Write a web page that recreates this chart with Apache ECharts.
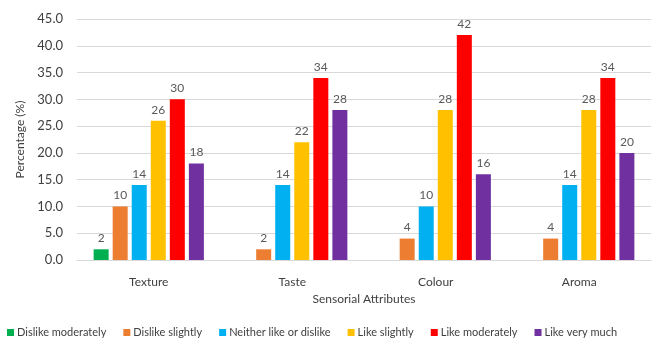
<!DOCTYPE html>
<html>
<head>
<meta charset="utf-8">
<script src="https://cdn.jsdelivr.net/npm/echarts@6/dist/echarts.min.js"></script>
<style>
  html, body { margin: 0; padding: 0; background: #fff; }
  #chart { width: 656px; height: 345px; }
</style>
</head>
<body>
<div id="chart"></div>
<script>
const categories = ['Texture', 'Taste', 'Colour', 'Aroma']
const seriesNames = ['Dislike moderately', 'Dislike slightly', 'Neither like or dislike', 'Like slightly', 'Like moderately', 'Like very much']
const dislikeModerately = [2, 0, 0, 0]
const dislikeSlightly = [10, 2, 4, 4]
const neither = [14, 14, 10, 14]
const likeSlightly = [26, 22, 28, 28]
const likeModerately = [30, 34, 42, 34]
const likeVeryMuch = [18, 28, 16, 20]
const colors = ['#00B050', '#ED7D31', '#00B0F0', '#FFC000', '#FF0000', '#7030A0']

const values = [dislikeModerately, dislikeSlightly, neither, likeSlightly, likeModerately, likeVeryMuch]
const font = 'Lato, "Open Sans", sans-serif'

const chart = echarts.init(document.getElementById('chart'))

chart.setOption({
  animation: false,
  color: colors,
  textStyle: { fontFamily: font },
  grid: { left: 77, right: 5, top: 19, bottom: 85 },
  legend: {
    left: 2,
    bottom: 2,
    width: 656,
    itemWidth: 7,
    itemHeight: 7,
    itemGap: 17,
    icon: 'rect',
    textStyle: { color: '#404040', fontSize: 11, fontFamily: font, padding: [0, 0, 0, -2] },
    data: seriesNames
  },
  xAxis: {
    type: 'category',
    data: categories,
    name: 'Sensorial Attributes',
    nameLocation: 'middle',
    nameGap: 32,
    nameTextStyle: { color: '#404040', fontSize: 12, fontFamily: font },
    axisLine: { lineStyle: { color: '#d9d9d9' } },
    axisTick: { show: false },
    axisLabel: { color: '#404040', fontSize: 12, margin: 16 }
  },
  yAxis: {
    type: 'value',
    min: 0,
    max: 45,
    interval: 5,
    name: 'Percentage (%)',
    nameLocation: 'middle',
    nameGap: 48,
    nameTextStyle: { color: '#404040', fontSize: 12, fontFamily: font },
    axisLabel: { color: '#404040', fontSize: 13, margin: 14, formatter: v => v.toFixed(1) },
    splitLine: { lineStyle: { color: '#d9d9d9' } }
  },
  series: seriesNames.map((name, i) => ({
    name,
    type: 'bar',
    barWidth: 15,
    barGap: '27%',
    data: values[i],
    label: {
      show: true,
      position: 'top',
      distance: 5,
      color: '#595959',
      fontSize: 12,
      formatter: p => (p.value ? p.value : '')
    }
  }))
})
</script>
</body>
</html>
